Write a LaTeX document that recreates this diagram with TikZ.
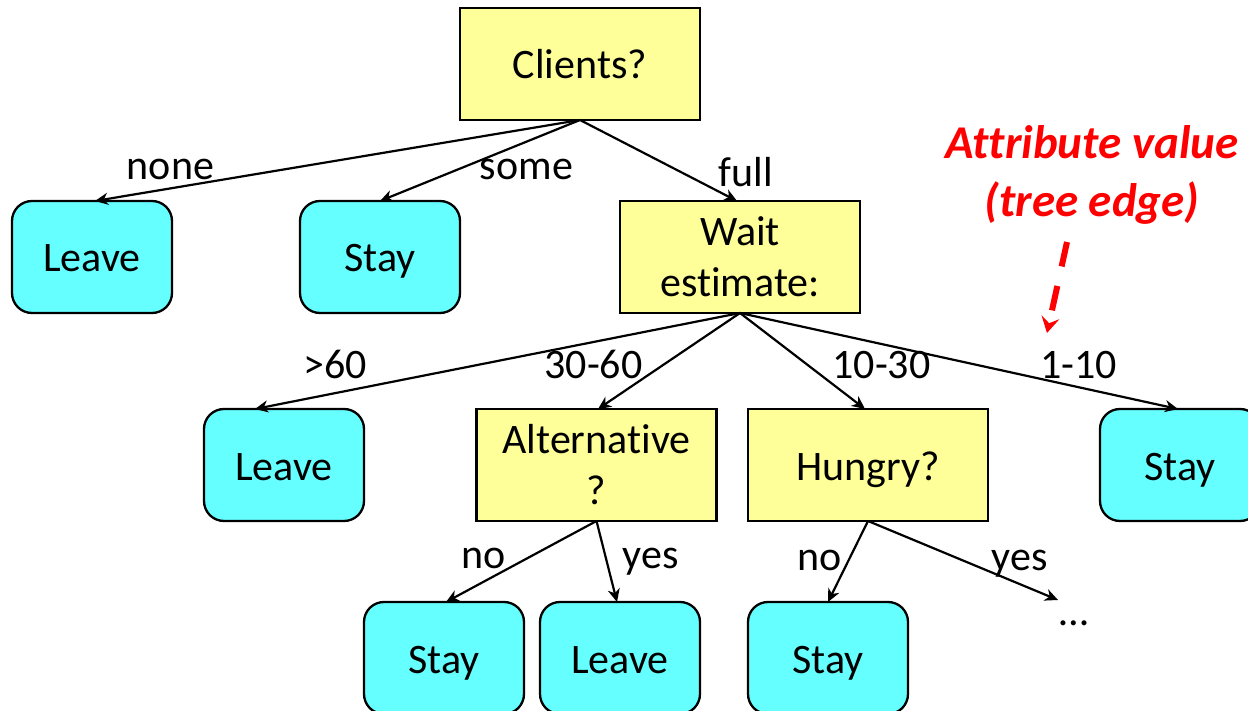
\documentclass[tikz,border=0pt]{standalone}
\usepackage{fontspec}
\setmainfont{Carlito}[Ligatures={NoCommon,NoRequired,NoContextual},Contextuals=NoAlternate]
\usetikzlibrary{arrows.meta}
\definecolor{qyellow}{HTML}{FFFF99}
\definecolor{leafcyan}{HTML}{66FFFF}
% zero kern that keeps letter pairs such as "ti" and "tt" apart
\newcommand\sep{\kern0pt }
\begin{document}
\begin{tikzpicture}[x=1pt,y=-1pt,
  every node/.style={font=\fontsize{42}{51}\selectfont, inner sep=0pt, outer sep=0pt},
  qbox/.style={draw=black, line width=2.3pt, fill=qyellow,
    minimum width=240pt, minimum height=112pt},
  qone/.style={qbox, text height=30pt, text depth=0pt},
  qtwo/.style={qbox, align=center},
  leaf/.style={draw=black, line width=2.3pt, fill=leafcyan, rounded corners=20pt,
    minimum width=160pt, minimum height=112pt, text height=30pt, text depth=0pt},
  lbl/.style={anchor=base},
  branch/.style={draw=black, line width=2.2pt, -{Stealth[length=13pt,width=12pt,inset=4pt]}},
  note/.style={anchor=base, text=red, font=\fontsize{47}{58}\selectfont\bfseries\itshape},
  hint/.style={draw=red, line width=6pt, dash pattern=on 25pt off 20pt,
    -{Stealth[length=16pt,width=18pt,inset=6pt]}},
]
\useasboundingbox (0,0) rectangle (1248,711);
\clip (0,0) rectangle (1248,711);

% decision nodes
\node[qone] (clients) at (580,64) {Clients?};
\node[qtwo] (wait) at (740,257) {Wait\\est\sep imate:};
\node[qtwo] (alt) at (596.5,465) {Alternat\sep ive\\?};
\node[qone] (hungry) at (868,465) {Hungry?};

% leaves
\node[leaf] (leaveA) at (92,257) {Leave};
\node[leaf] (stayA) at (380,257) {Stay};
\node[leaf] (leaveB) at (284,465) {Leave};
\node[leaf] (stayB) at (1180,465) {Stay};
\node[leaf] (stayC) at (444,658) {Stay};
\node[leaf] (leaveC) at (620,658) {Leave};
\node[leaf] (stayD) at (828,658) {Stay};
\coordinate (more) at (1058,600);

% branches
\draw[branch] (clients.south) -- ([xshift=3pt]leaveA.north);
\draw[branch] (clients.south) -- (stayA.north);
\draw[branch] (clients.south) -- ([xshift=-3pt]wait.north);
\draw[branch] (wait.south) -- ([xshift=-29pt]leaveB.north);
\draw[branch] (wait.south) -- ([xshift=1.5pt]alt.north);
\draw[branch] (wait.south) -- ([xshift=-3pt]hungry.north);
\draw[branch] (wait.south) -- ([xshift=-2pt]stayB.north);
\draw[branch] (alt.south) -- ([xshift=2pt]stayC.north);
\draw[branch] (alt.south) -- ([xshift=-3pt]leaveC.north);
\draw[branch] (hungry.south) -- (stayD.north);
\draw[branch] (hungry.south) -- (more);

% branch values
\node[lbl] (tnone) at (170.5,180) {none};
\node[lbl] (tsome) at (526.5,180) {some};
\node[lbl] (tfull) at (746,187) {full};
\node[lbl] (tgt) at (335,378) {>60};
\node[lbl] (t3060) at (593.5,378) {30-60};
\node[lbl] (t1030) at (881.5,378) {10-30};
\node[lbl] (t110) at (1078.5,378) {1-10};
\node[lbl] (tnoA) at (484,568) {no};
\node[lbl] (tyesA) at (650.5,568) {yes};
\node[lbl] (tnoH) at (820,570) {no};
\node[lbl] (tyesH) at (1019.5,570) {yes};
\node[lbl] (dots) at (1074,625) {…};

% annotation
\node[note] (noteA) at (1092,159) {At\sep t\sep ribute value};
\node[note] (noteB) at (1092,217) {(tree edge)};
\coordinate (hintfrom) at (1067,242);
\coordinate (hintto) at (1047,333);
\draw[hint] (hintfrom) -- (hintto);
\end{tikzpicture}
\end{document}
